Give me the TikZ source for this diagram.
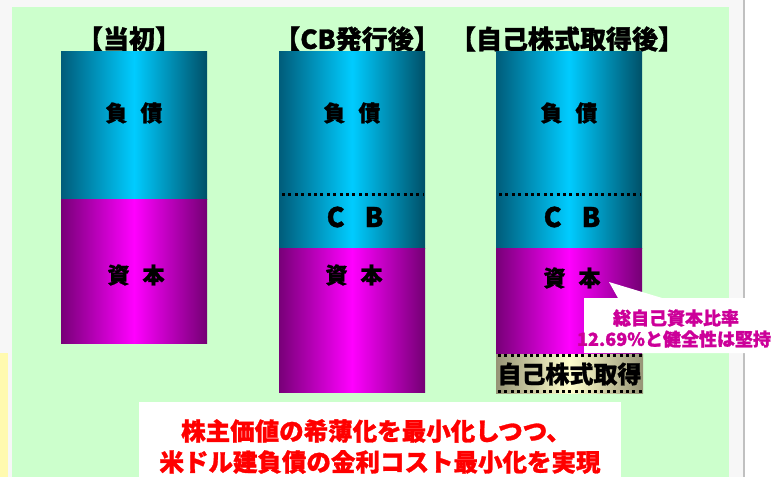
\documentclass[tikz,border=0pt]{standalone}
\usepackage{fontspec}
\setmainfont{Noto Sans CJK JP}[BoldFeatures={FakeBold=1.2}]
\definecolor{bggray}{RGB}{247,247,247}
\definecolor{linegray}{RGB}{192,192,192}
\definecolor{panel}{RGB}{204,255,204}
\definecolor{ystrip}{RGB}{255,250,175}
\definecolor{cyL}{RGB}{0,92,122}
\definecolor{cyM}{RGB}{0,204,255}
\definecolor{cyR}{RGB}{0,80,104}
\definecolor{mgL}{RGB}{120,0,120}
\definecolor{mgM}{RGB}{255,0,255}
\definecolor{mgR}{RGB}{116,0,116}
\definecolor{trL}{RGB}{150,148,118}
\definecolor{trM}{RGB}{255,255,204}
\definecolor{callpink}{RGB}{204,0,153}
\definecolor{msgred}{RGB}{255,0,0}
\begin{document}
\begin{tikzpicture}[x=1pt,y=-1pt,
  cyanbar/.style={left color=cyL,right color=cyR,middle color=cyM},
  magbar/.style={left color=mgL,right color=mgR,middle color=mgM},
  treas/.style={left color=trL,right color=trL,middle color=trM},
  sepline/.style={line width=3pt,dash pattern=on 3pt off 3.4pt,black},
  ttl/.style={font=\bfseries\fontsize{26pt}{30pt}\selectfont,inner sep=0pt},
  lbl/.style={font=\bfseries\fontsize{22pt}{26pt}\selectfont,inner sep=0pt},
  cbl/.style={font=\bfseries\fontsize{27pt}{30pt}\selectfont,inner sep=0pt},
  calltxt/.style={font=\bfseries\fontsize{18pt}{21pt}\selectfont,text=callpink,inner sep=0pt},
  msg/.style={font=\bfseries\fontsize{24.5pt}{28pt}\selectfont,text=msgred,inner sep=0pt}]
\useasboundingbox (0,0) rectangle (771,477);
\clip (0,0) rectangle (771,477);
% background
\fill[bggray] (0,0) rectangle (745,477);
\fill[white] (745,0) rectangle (771,477);
\fill[linegray] (742.5,0) rectangle (745,477);
\fill[panel] (12,7) rectangle (729,477);
\fill[ystrip] (0,353) rectangle (8,477);
% titles
\node[ttl] (t1) at (129,39) {【当初】};
\node[ttl] (t2) at (357,39) {【CB発行後】};
\node[ttl] (t3) at (567,39) {【自己株式取得後】};
% bar 1
\path[cyanbar] (61,51) rectangle (207,199);
\path[magbar] (61,199) rectangle (207,343);
\node[lbl] (b1d) at (134,113) {負\hspace{13pt}債};
\node[lbl] (b1c) at (136,275) {資\hspace{13pt}本};
% bar 2
\path[cyanbar] (279,51) rectangle (425,248);
\path[magbar] (279,248) rectangle (425,392);
\draw[sepline] (282,194) -- (424,194);
\node[lbl] (b2d) at (352,113) {負\hspace{13pt}債};
\node[cbl] (b2b) at (355,217) {C\hspace{20pt}B};
\node[lbl] (b2c) at (354,275) {資\hspace{13pt}本};
% bar 3
\path[cyanbar] (496,51) rectangle (642,248);
\path[magbar] (496,248) rectangle (642,353);
\draw[sepline] (499,194) -- (641,194);
\node[lbl] (b3d) at (569,113) {負\hspace{13pt}債};
\node[cbl] (b3b) at (572,217) {C\hspace{20pt}B};
\node[lbl] (b3c) at (572,278) {資\hspace{13pt}本};
% treasury stock box
\path[treas] (496,354) rectangle (643,393);
\draw[sepline] (498,355.5) -- (643,355.5);
\draw[sepline] (498,391.5) -- (643,391.5);
\node[font=\bfseries\fontsize{24pt}{28pt}\selectfont,inner sep=0pt] (tr) at (569.5,374) {自己株式取得};
% callout
\fill[white] (584,298) -- (618,298) -- (609,282) -- (662,298) -- (771,298) -- (771,353) -- (584,353) -- cycle;
\node[calltxt] (c1) at (676,318) {総自己資本比率};
\node[calltxt] (c2) at (674,339) {12.69\%と健全性は堅持};
% bottom message
\fill[white] (139,402) rectangle (621,477);
\node[msg] (m1) at (376,431) {株主価値の希薄化を最小化しつつ、};
\node[msg] (m2) at (380,462) {米ドル建負債の金利コスト最小化を実現};
\end{tikzpicture}
\end{document}
